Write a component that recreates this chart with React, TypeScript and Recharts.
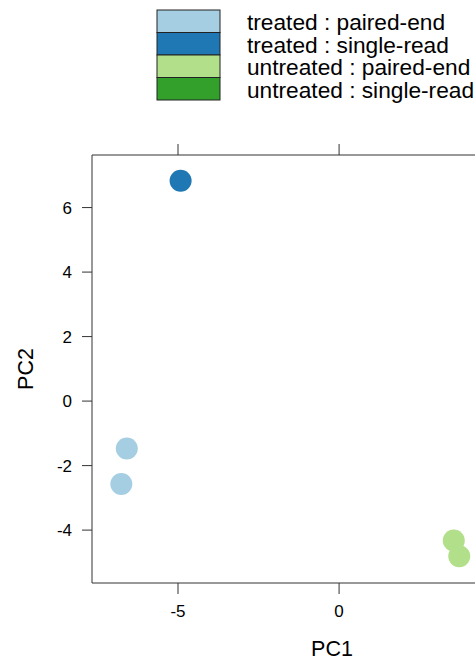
import { ScatterChart, Scatter, XAxis, YAxis } from "recharts";

const groups = [
  "treated : paired-end",
  "treated : single-read",
  "untreated : paired-end",
  "untreated : single-read",
];
const colors = ["#A6CEE3", "#1F78B4", "#B2DF8A", "#33A02C"];

const treatedPaired = [
  { pc1: -6.59, pc2: -1.47 },
  { pc1: -6.76, pc2: -2.57 },
];
const treatedSingle = [{ pc1: -4.92, pc2: 6.83 }];
const untreatedPaired = [
  { pc1: 3.56, pc2: -4.32 },
  { pc1: 3.73, pc2: -4.81 },
];
const untreatedSingle: { pc1: number; pc2: number }[] = [];

const xTicks = [-5, 0];
const yTicks = [-4, -2, 0, 2, 4, 6];

const font = "'Liberation Sans', Arial, Helvetica, sans-serif";
const axisColor = "#333";
const TICK = 11;
const GAP = 11;

const dot = (color: string) => (p: any) => (
  <circle cx={p.cx} cy={p.cy} r={11} fill={color} />
);

// bottom tick: line + label (tick lines were not showing on the x axes)
const BottomTick = (p: any) => (
  <g>
    <line x1={p.x} x2={p.x} y1={p.y - GAP - TICK} y2={p.y - GAP} stroke={axisColor} />
    <text x={p.x} y={p.y} dy="0.71em" textAnchor="middle" fill="#000" fontSize={17} fontFamily={font}>
      {p.payload.value}
    </text>
  </g>
);

const TopTick = (p: any) => (
  <line x1={p.x} x2={p.x} y1={p.y} y2={p.y + TICK} stroke={axisColor} />
);

const Key = () => (
  <svg width={475} height={110} style={{ position: "absolute", left: 0, top: 0 }}>
    {groups.map((g, i) => (
      <g key={g}>
        <rect x={157} y={10 + i * 22.5} width={63} height={22.5} fill={colors[i]} stroke="#222" strokeWidth={1} />
        <text x={247} y={30 + i * 22.5} fontSize={22.7} fontFamily={font} fill="#000">
          {g}
        </text>
      </g>
    ))}
  </svg>
);

const PcaPlot = () => {
  const series = [treatedPaired, treatedSingle, untreatedPaired, untreatedSingle];
  return (
    <div style={{ position: "absolute", left: 0, top: 0, width: 475, height: 661, overflow: "hidden", background: "#fff", fontFamily: font }}>
      <ScatterChart width={600} height={661} margin={{ top: 145, right: 17, bottom: 0, left: 0 }}>
        <XAxis
          xAxisId="bottom"
          type="number"
          dataKey="pc1"
          domain={[-7.67, 7.23]}
          allowDataOverflow
          ticks={xTicks}
          interval={0}
          height={78}
          tickSize={TICK}
          tickMargin={GAP}
          stroke={axisColor}
          tickLine={false}
          tick={BottomTick}
          label={{ value: "PC1", position: "insideBottom", offset: 5, fill: "#000", fontSize: 21.5, fontFamily: font }}
        />
        <XAxis
          xAxisId="top"
          orientation="top"
          type="number"
          dataKey="pc1"
          domain={[-7.67, 7.23]}
          allowDataOverflow
          ticks={xTicks}
          interval={0}
          height={10}
          tickSize={TICK}
          tickMargin={0}
          tick={TopTick}
          tickLine={false}
          stroke={axisColor}
        />
        <YAxis
          yAxisId="left"
          type="number"
          dataKey="pc2"
          domain={[-5.64, 7.63]}
          allowDataOverflow
          ticks={yTicks}
          interval={0}
          width={92}
          tickSize={10}
          tickMargin={10}
          stroke={axisColor}
          tickLine={{ stroke: axisColor }}
          tick={{ fill: "#000", fontSize: 17, fontFamily: font }}
          label={{ value: "PC2", angle: -90, position: "insideLeft", offset: 25, fill: "#000", fontSize: 21.5, fontFamily: font, style: { textAnchor: "middle" } }}
        />
        <YAxis
          yAxisId="right"
          orientation="right"
          type="number"
          dataKey="pc2"
          domain={[-5.64, 7.63]}
          allowDataOverflow
          ticks={yTicks}
          width={11}
          tickSize={10}
          tick={false}
          tickLine={{ stroke: axisColor }}
          stroke={axisColor}
        />
        {series.map((d, i) => (
          <Scatter
            key={groups[i]}
            name={groups[i]}
            data={d}
            xAxisId="bottom"
            yAxisId="left"
            fill={colors[i]}
            shape={dot(colors[i])}
            isAnimationActive={false}
          />
        ))}
      </ScatterChart>
      <Key />
    </div>
  );
};

export default function App() {
  return <PcaPlot />;
}
